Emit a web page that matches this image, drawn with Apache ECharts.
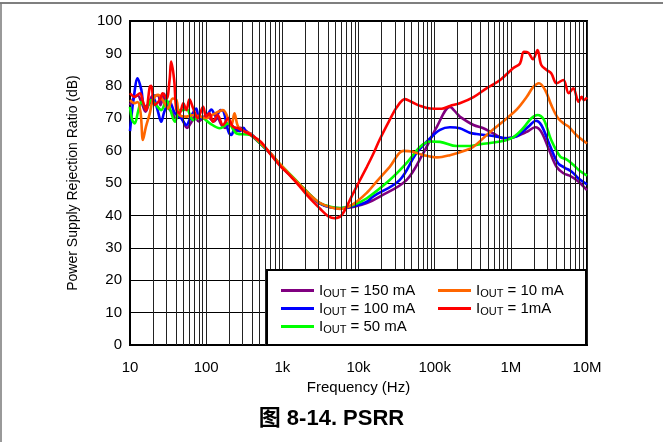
<!DOCTYPE html>
<html>
<head>
<meta charset="utf-8">
<script src="https://cdn.jsdelivr.net/npm/echarts@6/dist/echarts.min.js"></script>
<style>
  html, body { margin: 0; padding: 0; background: #fff; }
  #main { width: 663px; height: 442px; }
</style>
</head>
<body>
<div id="main"></div>
<script>
// x tick labels, one per decade 10 Hz .. 10 MHz
var xLabels = ['10', '100', '1k', '10k', '100k', '1M', '10M'];
var names = ['150 mA', '100 mA', '50 mA', '10 mA', '1mA'];
var colors = ['#800080', '#0000ff', '#00ff00', '#ff6600', '#ff0000'];

// IOUT = 150 mA
var f150 = [10, 11, 12.6, 14.1, 16, 18, 20, 23.4, 25.1, 28, 30, 35, 40, 45, 50, 56, 63, 71, 80, 90, 100, 112, 126, 141, 158, 178, 200, 224, 251, 282, 316, 380,
  513, 692, 933, 1259, 1698, 2291, 3090, 4266, 5754, 8511, 12882, 19055, 42658, 70795, 107152, 158489, 194984, 213796, 323594, 436516, 588844, 794328,
  1.07e6, 1.62e6, 2.09e6, 2.51e6, 3.24e6, 3.98e6, 4.9e6, 6.0e6, 7.76e6, 1e7];
var db150 = [74, 76, 77, 75, 72, 75, 77, 77, 74, 77.5, 74, 72, 70, 71, 69, 67, 68.5, 70.5, 69, 70, 71, 70, 69, 70, 68, 67, 68, 67.5, 66, 67, 66.5, 65,
  62.2, 59.2, 55.6, 52.5, 49.4, 46.3, 43.7, 42.5, 42.2, 42.6, 43.8, 45.8, 50.9, 59.2, 67.4, 73.5, 71.5, 70.5, 67.9, 66.9, 65.3, 63.8,
  64.1, 65.8, 67.2, 65.8, 59.7, 55, 53, 52.2, 50.4, 47.8];

// IOUT = 100 mA
var f100 = [10, 10.5, 11, 12.6, 14.1, 15.5, 18.2, 20, 23, 25.7, 28.2, 33.1, 38.9, 46.8, 55, 63, 74, 81.3, 100, 117, 135, 155, 170, 195, 214, 240, 275, 309, 340, 380,
  513, 692, 933, 1259, 1698, 2291, 3090, 4266, 5754, 8511, 12882, 15488, 34674, 57544, 87096, 117490, 158489, 213796, 288403, 354813, 588844, 891251,
  1.2e6, 1.7e6, 2.14e6, 2.51e6, 3.24e6, 4.17e6, 5.13e6, 6.3e6, 7.76e6, 1e7];
var db100 = [66, 71, 75, 82.3, 78.7, 73.5, 74.6, 76.6, 72.5, 68.9, 72, 75.1, 71.5, 70, 67.9, 70.5, 73, 70, 70.5, 72.7, 70.5, 72.5, 72, 66, 64.8, 67, 66, 67, 65.5, 65.3,
  62.2, 59.2, 55.6, 52.5, 49.4, 46.3, 43.7, 42.5, 42.2, 42.8, 44.2, 45.8, 50.9, 59.2, 63.8, 66.4, 67.2, 66.9, 65.5, 65.1, 64.5, 63.8,
  64.5, 67.4, 69.2, 67.9, 61.7, 56.1, 54.7, 53.5, 51.4, 49.6];

// IOUT = 50 mA
var f50 = [10, 10.7, 11.5, 12.9, 14.1, 16.2, 19, 22, 25.7, 30.2, 33.9, 38.9, 44.7, 50, 55, 67.6, 83, 112, 151, 195, 251, 380,
  513, 692, 933, 1259, 1698, 2291, 3090, 4266, 5754, 8511, 12882, 25704, 42658, 64565, 87096, 117490, 194984, 288403, 398107, 724436,
  1.07e6, 1.45e6, 1.86e6, 2.24e6, 2.69e6, 3.39e6, 4.47e6, 5.37e6, 6.6e6, 8e6, 1e7];
var db50 = [73.5, 69.4, 68.4, 72.5, 75.1, 73, 75.6, 74.1, 72.5, 75.6, 72.5, 68.9, 72.5, 72.5, 73, 69.4, 70.5, 68.4, 66.9, 68.4, 65.3, 64.8,
  62.2, 59.2, 55.8, 52.7, 49.6, 46.5, 43.9, 42.7, 42.3, 43.2, 45.3, 50.9, 56.1, 61.2, 62.8, 62.7, 61.4, 61.4, 62, 62.8,
  64.1, 66.9, 70, 71, 69.7, 63.3, 58.1, 57.3, 55.6, 53.8, 52.3];

// IOUT = 10 mA
var f10 = [10, 11.5, 12.6, 13.8, 14.8, 16.2, 18.2, 20, 23.4, 26.9, 31.6, 36.3, 40.7, 44.7, 55, 67.6, 83, 100, 120, 166, 214, 235, 263, 324, 380,
  513, 692, 933, 1259, 1698, 2291, 3090, 4266, 5754, 8511, 12882, 17378, 25704, 38905, 50119, 70795, 107152, 158489, 263027, 323594, 537032, 891251,
  1.2e6, 1.62e6, 1.95e6, 2.34e6, 2.82e6, 3.39e6, 4.17e6, 5.13e6, 5.75e6, 7.24e6, 1e7];
var db10 = [75.6, 74.6, 75, 71.5, 63.3, 67.4, 71.5, 75.6, 77.2, 75.6, 73, 76.1, 75.6, 71, 70.5, 71, 70.5, 70, 71, 72.5, 67.9, 71.5, 67.4, 65.8, 65.3,
  62.4, 59.4, 55.8, 52.6, 49.5, 46.4, 43.9, 42.5, 42, 43.5, 47, 50.5, 55, 59.9, 59.7, 58.6, 57.9, 58.6, 60.2, 61.2, 65.8, 70,
  72.7, 76.6, 79.5, 80.8, 78.7, 74.1, 70, 68.1, 67.4, 64.8, 62.2];

// IOUT = 1mA
var f1 = [10, 11.5, 13.5, 14.8, 16.2, 18.2, 19, 21, 24.5, 26.9, 30.2, 33.1, 34.7, 38, 40.7, 44.7, 50.1, 55, 60.3, 67.6, 77.6, 91.2, 100, 110, 123, 141, 166, 195, 224, 263, 324, 389,
  525, 692, 933, 1259, 1698, 2291, 3090, 3981, 4898, 6026, 8511, 10000, 12882, 15488, 19055, 25704, 31623, 40738, 50119, 64565, 87096, 123027, 158489, 213796, 323594, 478630, 724436,
  1.07e6, 1.32e6, 1.48e6, 1.7e6, 1.95e6, 2.24e6, 2.51e6, 2.95e6, 3.39e6, 3.98e6, 4.9e6, 5.75e6, 6.6e6, 7.76e6, 8.5e6, 9.1e6, 1e7];
var db1 = [77.7, 76.6, 77.7, 75.1, 72.5, 79.7, 80, 74.1, 75.6, 77.7, 76.1, 81.8, 87.5, 81.8, 72.5, 71.5, 74.6, 72.5, 75.8, 73, 70, 73.5, 70.5, 71.5, 68.9, 71, 67.9, 70, 67.4, 66.9, 65.8, 64.8,
  62.7, 59, 55.3, 52.3, 48.9, 45.3, 42.2, 39.8, 39.1, 40.1, 46.8, 50, 55, 58.8, 63.5, 69.5, 73.3, 75.9, 75, 73.8, 73, 72.9, 73.8, 74.6, 76.5, 79.2, 81.8,
  85.4, 86.9, 90.5, 90.2, 88.2, 91, 86.4, 84.9, 83.9, 80.8, 81.8, 77.7, 79.2, 75.1, 76.6, 75.6, 76.4];

var freqs = [f150, f100, f50, f10, f1];
var dbs = [db150, db100, db50, db10, db1];

function pairs(f, d) {
  var out = [];
  for (var i = 0; i < f.length; i++) out.push([f[i], d[i]]);
  return out;
}

// minor vertical grid lines at 2..9 x each decade
var minorLines = [];
for (var dec = 10; dec < 1e7; dec *= 10) {
  for (var m = 2; m <= 9; m++) minorLines.push({ xAxis: m * dec });
}

var font = 'Liberation Sans, Arial, Helvetica, sans-serif';
var series = [{
  name: 'grid',
  type: 'line',
  data: [],
  z: 1,
  silent: true,
  markLine: {
    silent: true,
    symbol: 'none',
    animation: false,
    label: { show: false },
    lineStyle: { color: '#222', width: 1, type: 'solid' },
    data: minorLines
  }
}];
for (var k = 0; k < names.length; k++) {
  series.push({
    name: names[k],
    type: 'line',
    data: pairs(freqs[k], dbs[k]),
    showSymbol: false,
    smooth: 0.35,
    z: 3,
    lineStyle: { color: colors[k], width: 2.6 },
    itemStyle: { color: colors[k] }
  });
}

var legendText = {
  fontSize: 15,
  color: '#000',
  fontFamily: font,
  rich: { s: { fontSize: 11, fontFamily: font, color: '#000', padding: [6, 0, 0, 0] } }
};
function legendFmt(n) { return 'I{s|OUT} = ' + n; }

var myChart = echarts.init(document.getElementById('main'));
myChart.setOption({
  animation: false,
  backgroundColor: '#fff',
  title: {
    text: '图 8-14. PSRR',
    left: 'center',
    top: 403,
    textStyle: { fontSize: 22, fontWeight: 'bold', color: '#000', fontFamily: 'Liberation Sans, Noto Sans CJK SC, sans-serif' }
  },
  grid: { left: 130, top: 21, right: 76, bottom: 97, show: true, borderColor: '#000', borderWidth: 2 },
  legend: [{
    data: names.slice(0, 3),
    orient: 'vertical',
    left: 276,
    top: 278,
    itemGap: 2,
    itemWidth: 33,
    itemHeight: 3,
    icon: 'rect',
    z: 20,
    formatter: legendFmt,
    textStyle: legendText
  }, {
    data: names.slice(3),
    orient: 'vertical',
    left: 433,
    top: 278,
    itemGap: 2,
    itemWidth: 33,
    itemHeight: 3,
    icon: 'rect',
    z: 20,
    formatter: legendFmt,
    textStyle: legendText
  }],
  xAxis: {
    type: 'log',
    logBase: 10,
    min: 10,
    max: 1e7,
    name: 'Frequency (Hz)',
    nameLocation: 'middle',
    nameGap: 32,
    nameTextStyle: { fontSize: 15, color: '#000', fontFamily: font },
    axisLine: { lineStyle: { color: '#000', width: 2 } },
    axisTick: { show: false },
    axisLabel: {
      fontSize: 15, color: '#000', fontFamily: font, margin: 15,
      formatter: function (v) { return xLabels[Math.round(Math.log10(v)) - 1]; }
    },
    splitLine: { show: true, lineStyle: { color: '#222', width: 1 } }
  },
  yAxis: {
    type: 'value',
    min: 0,
    max: 100,
    interval: 10,
    name: 'Power Supply Rejection Ratio (dB)',
    nameLocation: 'middle',
    nameGap: 50,
    nameTextStyle: { fontSize: 14, color: '#000', fontFamily: font },
    axisLine: { show: true, lineStyle: { color: '#000', width: 2 } },
    axisTick: { show: false },
    axisLabel: { fontSize: 15, color: '#000', fontFamily: font, margin: 8 },
    splitLine: { show: true, lineStyle: { color: '#000', width: 1 } }
  },
  graphic: [
    { type: 'line', shape: { x1: 0, y1: 3, x2: 663, y2: 3 }, style: { stroke: '#555', lineWidth: 1.5 }, z: 30 },
    { type: 'line', shape: { x1: 1, y1: 3, x2: 1, y2: 442 }, style: { stroke: '#777', lineWidth: 1.5 }, z: 30 },
    { type: 'rect', shape: { x: 267, y: 270, width: 319, height: 75 }, style: { fill: '#fff', stroke: '#000', lineWidth: 2 }, z: 10 }
  ],
  series: series
});
</script>
</body>
</html>
